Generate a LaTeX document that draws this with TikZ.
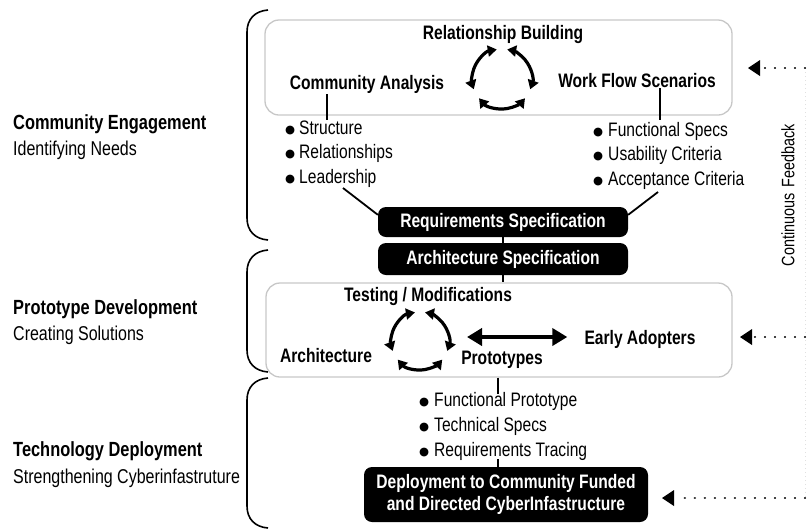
\documentclass[tikz,border=0pt]{standalone}
\usepackage{fontspec}
\setmainfont[FakeStretch=0.8]{Liberation Sans}
\newfontfamily\bulfont{DejaVu Sans}
\usetikzlibrary{arrows.meta,calc}
\newcommand{\bul}{\raisebox{0.6pt}{\bulfont\fontsize{11.5}{11.5}\selectfont ●}}
\begin{document}
\begin{tikzpicture}[x=1pt,y=-1pt,
  every node/.style={inner sep=1pt},
  hd/.style={font=\fontsize{19.5}{22}\selectfont\bfseries, anchor=base},
  bl/.style={font=\fontsize{19.5}{22}\selectfont, anchor=base west},
  lbold/.style={font=\fontsize{20.5}{24}\selectfont\bfseries, anchor=base west},
  lreg/.style={font=\fontsize{20}{24}\selectfont, anchor=base west},
  graybox/.style={draw=black!22, line width=1.3pt, rounded corners=14pt},
  blackbox/.style={fill=black, rounded corners=8pt, text=white, font=\fontsize{19.5}{22}\selectfont\bfseries, align=center, inner sep=0pt},
  conn/.style={line width=1.8pt},
  brace/.style={line width=1.6pt},
  cyc/.style={line width=3.2pt, {Triangle[length=9pt,width=11pt]}-{Triangle[length=9pt,width=11pt]}},
  dbl/.style={line width=4pt, {Triangle[length=15pt,width=17pt]}-{Triangle[length=15pt,width=17pt]}},
  fb/.style={line width=2.4pt, line cap=round, dash pattern=on 0.01pt off 10pt},
  fbhead/.style={fill=black},
]
\useasboundingbox (0,0) rectangle (807,531);

% braces
\draw[brace] (268,10) .. controls (255,11) and (247,19) .. (247,32) -- (247,218) .. controls (247,231) and (255,239) .. (268,240);
\draw[brace] (268,250) .. controls (255,251) and (247,259) .. (247,272) -- (247,350) .. controls (247,363) and (255,371) .. (268,372);
\draw[brace] (268,378) .. controls (255,379) and (247,387) .. (247,400) -- (247,506) .. controls (247,519) and (255,527) .. (268,528);

% left labels
\node[lbold] (l1) at (12,129.5) {Community Engagement};
\node[lreg]  (l1s) at (12,155.5) {Identifying Needs};
\node[lbold] (l2) at (12,314.5) {Prototype Development};
\node[lreg]  (l2s) at (12,340.5) {Creating Solutions};
\node[lbold] (l3) at (12,456.5) {Technology Deployment};
\node[lreg]  (l3s) at (12,483.5) {Strengthening Cyberinfastruture};

% top box
\node[graybox, minimum width=467pt, minimum height=95pt] (topbox) at (498.5,67.5) {};
\node[hd] (rb) at (503,39) {Relationship Building};
\node[hd] (ca) at (367,89) {Community Analysis};
\node[hd] (wfs) at (637,87) {Work Flow Scenarios};
\coordinate (c1) at (502,79);
\draw[cyc] ([shift={(260:30)}]c1) arc[start angle=260,end angle=160,radius=30];
\draw[cyc] ([shift={(140:30)}]c1) arc[start angle=140,end angle=40,radius=30];
\draw[cyc] ([shift={(20:30)}]c1) arc[start angle=20,end angle=-80,radius=30];

% bullets left / right
\node[bl] (b11) at (284,134) {\bul\hspace{4pt}Structure};
\node[bl] (b12) at (284,158.5) {\bul\hspace{4pt}Relationships};
\node[bl] (b13) at (284,183) {\bul\hspace{4pt}Leadership};
\node[bl] (b21) at (592,136) {\bul\hspace{5pt}Functional Specs};
\node[bl] (b22) at (592,160.5) {\bul\hspace{5pt}Usability Criteria};
\node[bl] (b23) at (592,185) {\bul\hspace{5pt}Acceptance Criteria};

\coordinate (caf) at (327,120);
\coordinate (wff) at (660,120);
\draw[conn] (ca.south -| caf) -- (caf);
\draw[conn] (wfs.south -| wff) -- (wff);

% spec boxes
\node[blackbox, minimum width=250pt, minimum height=30pt] (req) at (503,222) {Requirements Specification};
\node[blackbox, minimum width=250pt, minimum height=32pt] (arch) at (503,259) {Architecture Specification};
\coordinate (leadf) at (343,188);
\coordinate (accf) at (658,192);
\draw[conn] (leadf) -- ($(req.north west)+(0,8)$);
\draw[conn] (accf) -- ($(req.north east)+(0,8)$);
\draw[conn] (req.south) -- (arch.north);

% middle box
\node[graybox, minimum width=466pt, minimum height=94pt] (midbox) at (499,330) {};
\draw[conn] (arch.south) -- (arch.south |- midbox.north);
\node[hd] (tm) at (428,301) {Testing / Modifications};
\node[hd] (ar) at (326,362) {Architecture};
\node[hd] (pr) at (502,364) {Prototypes};
\node[hd] (ea) at (640,344) {Early Adopters};
\coordinate (c2) at (420,341);
\draw[cyc] ([shift={(260:29)}]c2) arc[start angle=260,end angle=160,radius=29];
\draw[cyc] ([shift={(140:29)}]c2) arc[start angle=140,end angle=40,radius=29];
\draw[cyc] ([shift={(20:29)}]c2) arc[start angle=20,end angle=-80,radius=29];
\coordinate (da1) at (467,337);
\draw[dbl] (da1) -- ($(da1 -| ea.west)+(-16,0)$);

% bottom bullets
\coordinate (mbf) at (498,394);
\draw[conn] (mbf |- midbox.south) -- (mbf);
\node[bl] (b31) at (418,406) {\bul\hspace{5pt}Functional Prototype};
\node[bl] (b32) at (418,431) {\bul\hspace{5pt}Technical Specs};
\node[bl] (b33) at (418,456) {\bul\hspace{5pt}Requirements Tracing};

\node[blackbox, minimum width=284pt, minimum height=55pt] (dep) at (506,494.5) {Deployment to Community Funded\\and Directed CyberInfastructure};
\coordinate (rtf) at (498,459);
\draw[conn] (rtf) -- (rtf |- dep.north);

% feedback
\coordinate (fb1) at (805,68);
\coordinate (fb2) at (805,337);
\coordinate (fb3) at (805,498);
\coordinate (t1) at (748,68);
\coordinate (t2) at (740,337);
\coordinate (t3) at (662,498);
\fill[fbhead] (t1) -- (760,60) -- (760,76) -- cycle;
\fill[fbhead] (t2) -- (752,329) -- (752,345) -- cycle;
\fill[fbhead] (t3) -- (674,490) -- (674,506) -- cycle;
\draw[black!12, line width=0.8pt, dash pattern=on 1pt off 3pt] (fb1) -- (fb3);
\draw[fb] (fb1) -- (fb1 -| 762,0);
\draw[fb] (fb2) -- (fb2 -| 754,0);
\draw[fb] (fb3) -- (fb3 -| 676,0);
\node[font=\fontsize{18}{20}\selectfont, rotate=90] (cf) at (788,195) {Continuous\hspace{6pt}Feedback};
\end{tikzpicture}
\end{document}
